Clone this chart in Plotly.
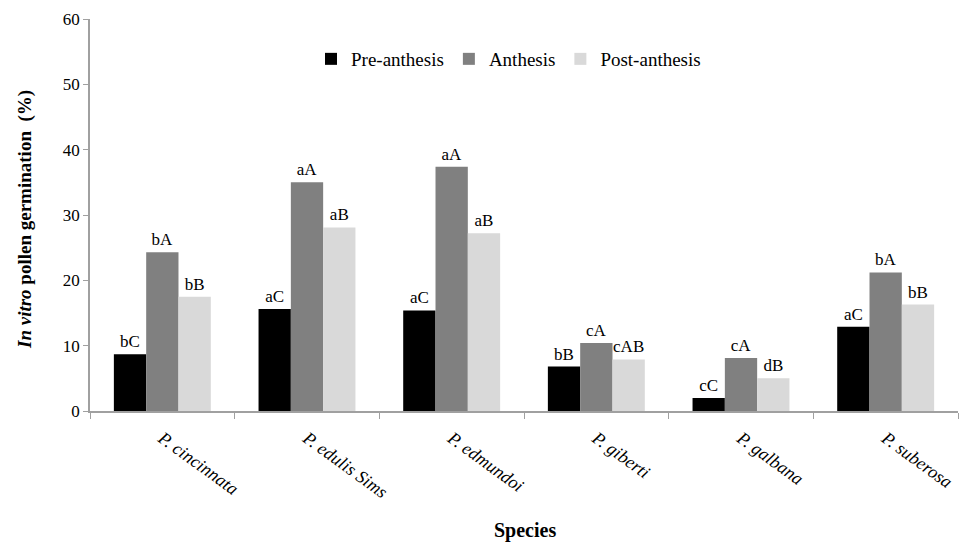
import plotly.graph_objects as go

species = ["P. cincinnata", "P. edulis Sims", "P. edmundoi", "P. giberti", "P. galbana", "P. suberosa"]
series_names = ["Pre-anthesis", "Anthesis", "Post-anthesis"]
pre = [8.7, 15.6, 15.4, 6.8, 2.0, 12.9]
anth = [24.3, 35.0, 37.4, 10.4, 8.1, 21.2]
post = [17.5, 28.1, 27.2, 7.9, 5.0, 16.3]
pre_lbl = ["bC", "aC", "aC", "bB", "cC", "aC"]
anth_lbl = ["bA", "aA", "aA", "cA", "cA", "bA"]
post_lbl = ["bB", "aB", "aB", "cAB", "dB", "bB"]
yticks = [0, 10, 20, 30, 40, 50, 60]

colors = ["#000000", "#808080", "#d9d9d9"]
FONT = "'Liberation Serif', 'Times New Roman', 'DejaVu Serif', serif"

L, R, T, B = 90, 9, 19, 132
W, H = 967, 543
PW, PH = W - L - R, H - T - B

fig = go.Figure()
for name, vals, lbls, c in zip(series_names, [pre, anth, post], [pre_lbl, anth_lbl, post_lbl], colors):
    fig.add_trace(go.Bar(
        x=species, y=vals, name=name, marker=dict(color=c, line=dict(width=0)),
        text=lbls, textposition="outside", constraintext="none", cliponaxis=False,
        textfont=dict(family=FONT, size=17, color="black"),
    ))

fig.update_layout(
    width=W, height=H,
    margin=dict(l=L, r=R, t=T, b=B, autoexpand=False),
    paper_bgcolor="white", plot_bgcolor="white",
    barmode="group", bargap=0.33, bargroupgap=0,
    font=dict(family=FONT, size=17, color="black"),
    legend=dict(orientation="h", x=(311 - L) / PW, y=(H - B - 59) / PH, xanchor="left", yanchor="middle",
                font=dict(family=FONT, size=19), traceorder="normal",
                bgcolor="rgba(0,0,0,0)"),
    showlegend=True,
    annotations=[
        dict(text="<b>Species</b>", x=(525 - L) / PW, y=-(530 - (H - B)) / PH, xref="paper", yref="paper",
             xanchor="center", yanchor="middle", showarrow=False, font=dict(family=FONT, size=20)),
        dict(text="<b><i>In vitro</i> pollen germination  (%)</b>", x=(25 - L) / PW, y=(H - B - 220) / PH,
             xref="paper", yref="paper", xanchor="center", yanchor="middle", textangle=-90,
             showarrow=False, font=dict(family=FONT, size=19)),
    ],
)
fig.update_xaxes(
    automargin=False,
    showline=True, linecolor="#a0a0a0", linewidth=1.5,
    ticks="outside", tickson="boundaries", ticklen=6, tickcolor="#a0a0a0",
    tickangle=36, tickfont=dict(family=FONT, size=18, style="italic"),
    ticklabelstandoff=8,
)
fig.update_yaxes(
    automargin=False,
    range=[0, 60], tickvals=yticks, showgrid=False, zeroline=False,
    showline=True, linecolor="#a0a0a0", linewidth=1.5,
    ticks="outside", ticklen=5, tickcolor="#a0a0a0",
    tickfont=dict(family=FONT, size=17),
)

fig.write_html("out.html")
